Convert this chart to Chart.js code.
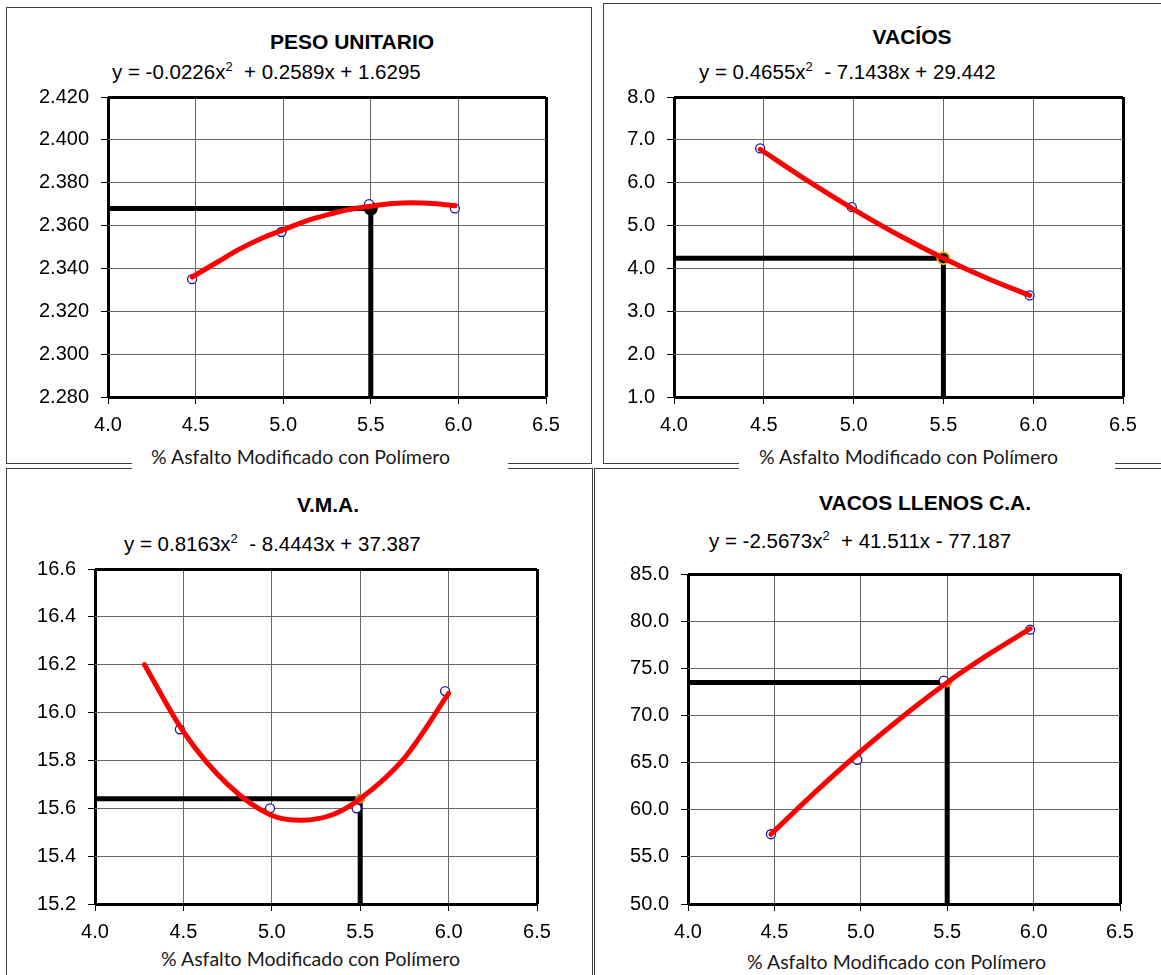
<!DOCTYPE html>
<html>
<head>
<meta charset="utf-8">
<script src="https://cdn.jsdelivr.net/npm/chart.js@4.4.1/dist/chart.umd.min.js"></script>
<style>
  body { margin: 0; background: #fff; }
  #page { position: relative; width: 1161px; height: 975px; overflow: hidden; background: #fff; }
  .box { position: absolute; border: 1px solid #404040; box-sizing: border-box; }
  .title { position: absolute; width: 400px; height: 24px; line-height: 24px; text-align: center;
           font: bold 21px 'Liberation Sans', Arial, sans-serif; color: #000; }
  .eq { position: absolute; height: 24px; line-height: 24px; white-space: pre;
        font: 20.5px 'Liberation Sans', Arial, sans-serif; color: #000; }
  .eq sup { font-size: 13px; vertical-align: 8px; line-height: 0; }
  .xt { position: absolute; height: 24px; line-height: 24px; background: #fff; white-space: pre;
        font: 19.5px Lato, 'Open Sans', sans-serif; color: #1a1a1a; }
  canvas { position: absolute; }
</style>
</head>
<body>
<div id="page">
  <div class="box" style="left:6px;top:7px;width:586px;height:457px"></div>
  <div class="box" style="left:603px;top:3px;width:600px;height:461px"></div>
  <div class="box" style="left:6px;top:468px;width:587px;height:600px"></div>
  <div class="box" style="left:594px;top:468px;width:600px;height:600px"></div>

  <div class="title" style="left:152px;top:30px">PESO UNITARIO</div>
  <div class="title" style="left:712px;top:25px">VACÍOS</div>
  <div class="title" style="left:128px;top:493px">V.M.A.</div>
  <div class="title" style="left:725px;top:491px">VACOS LLENOS C.A.</div>

  <div class="eq" style="left:112px;top:60px">y = -0.0226x<sup>2</sup>  + 0.2589x + 1.6295</div>
  <div class="eq" style="left:699px;top:60px">y = 0.4655x<sup>2</sup>  - 7.1438x + 29.442</div>
  <div class="eq" style="left:124px;top:532px">y = 0.8163x<sup>2</sup>  - 8.4443x + 37.387</div>
  <div class="eq" style="left:709px;top:529px">y = -2.5673x<sup>2</sup>  + 41.511x - 77.187</div>

  <div class="xt" style="left:132px;top:445px;width:376px;padding-left:19px;box-sizing:border-box">% Asfalto Modificado con Polímero</div>
  <div class="xt" style="left:739px;top:445px;width:376px;padding-left:20px;box-sizing:border-box">% Asfalto Modificado con Polímero</div>
  <div class="xt" style="left:161px;top:947px">% Asfalto Modificado con Polímero</div>
  <div class="xt" style="left:747px;top:950px">% Asfalto Modificado con Polímero</div>

  <canvas id="peso"></canvas>
  <canvas id="vacios"></canvas>
  <canvas id="vma"></canvas>
  <canvas id="vfa"></canvas>
</div>

<script>
// shared x axis: % asfalto
const xTicks = [4.0, 4.5, 5.0, 5.5, 6.0, 6.5];

// PESO UNITARIO
const pesoX = [4.48, 4.99, 5.49, 5.98];
const pesoY = [2.335, 2.357, 2.370, 2.368];
const pesoCurveX = [4.48, 4.625, 4.75, 4.875, 5.0, 5.125, 5.25, 5.375, 5.5, 5.625, 5.73, 5.875, 5.98];
const pesoCurveY = [2.336, 2.343, 2.349, 2.354, 2.358, 2.362, 2.365, 2.3675, 2.369, 2.3703, 2.3707, 2.3702, 2.3692];
const pesoDesign = [5.5, 2.368];
const pesoTicks = [2.280, 2.300, 2.320, 2.340, 2.360, 2.380, 2.400, 2.420];

// VACIOS
const vaciosX = [4.48, 4.99, 5.98];
const vaciosY = [6.80, 5.43, 3.37];
const vaciosCurveX = [4.48, 4.75, 5.0, 5.25, 5.5, 5.75, 5.98];
const vaciosCurveY = [6.78, 6.03, 5.38, 4.78, 4.24, 3.76, 3.37];
const vaciosDesign = [5.5, 4.24];
const vaciosTicks = [1.0, 2.0, 3.0, 4.0, 5.0, 6.0, 7.0, 8.0];

// V.M.A.
const vmaX = [4.48, 4.99, 5.48, 5.98];
const vmaY = [15.93, 15.60, 15.60, 16.09];
const vmaCurveX = [4.28, 4.5, 4.75, 5.0, 5.17, 5.35, 5.5, 5.75, 6.0];
const vmaCurveY = [16.20, 15.92, 15.70, 15.57, 15.55, 15.575, 15.64, 15.81, 16.08];
const vmaDesign = [5.5, 15.64];
const vmaTicks = [15.2, 15.4, 15.6, 15.8, 16.0, 16.2, 16.4, 16.6];

// VACIOS LLENOS C.A.
const vfaX = [4.48, 4.98, 5.48, 5.98];
const vfaY = [57.4, 65.3, 73.7, 79.1];
const vfaCurveX = [4.48, 4.75, 5.0, 5.25, 5.5, 5.75, 5.98];
const vfaCurveY = [57.4, 62.1, 66.2, 70.0, 73.5, 76.6, 79.2];
const vfaDesign = [5.5, 73.5];
const vfaTicks = [50.0, 55.0, 60.0, 65.0, 70.0, 75.0, 80.0, 85.0];

Chart.defaults.font.family = "'Liberation Sans', Arial, sans-serif";
Chart.defaults.font.size = 20;
Chart.defaults.color = '#000';

const pair = (xs, ys) => xs.map((x, i) => ({ x: x, y: ys[i] }));

function gridOpts(n) {
    const edge = c => c.index === 0 || c.index === n - 1;
    return {
        color: c => edge(c) ? '#000' : '#666',
        lineWidth: c => edge(c) ? 3 : 1,
        tickLength: 7,
        tickWidth: 1,
        tickColor: '#000'
    };
}

function makePanel(id, p) {
    const canvas = document.getElementById(id);
    const [L, T, R, B] = p.area;
    // y tick padding (12) + half label height (12) pushes the plot top to 24px
    canvas.width = (R - L) + 140;
    canvas.height = (B - T) + 74;
    canvas.style.left = (L - 100) + 'px';
    canvas.style.top = (T - 24) + 'px';

    const yMin = p.yTicks[0];
    const yMax = p.yTicks[p.yTicks.length - 1];

    new Chart(canvas, {
        type: 'scatter',
        data: {
            datasets: [{
                // trendline
                data: pair(p.curveX, p.curveY),
                showLine: true,
                borderColor: '#ff0000',
                borderWidth: 5,
                pointRadius: 0,
                cubicInterpolationMode: 'monotone',
                borderCapStyle: 'round'
            }, {
                // ensayos
                data: pair(p.x, p.y),
                pointStyle: 'circle',
                pointRadius: 4.5,
                pointBorderWidth: 1.3,
                pointBorderColor: '#1414a0',
                pointBackgroundColor: '#fff'
            }, {
                // punto de diseño
                data: [{ x: p.design[0], y: p.design[1] }],
                pointRadius: p.mark.r,
                pointBorderWidth: 2,
                pointBorderColor: p.mark.border,
                pointBackgroundColor: p.mark.fill
            }, {
                // lineas de lectura
                data: [
                    { x: xTicks[0], y: p.design[1] },
                    { x: p.design[0], y: p.design[1] },
                    { x: p.design[0], y: yMin }
                ],
                showLine: true,
                borderColor: '#000',
                borderWidth: 5,
                pointRadius: 0,
                tension: 0,
                clip: { left: 0, top: 0, right: 0, bottom: 4 }
            }]
        },
        options: {
            responsive: false,
            animation: false,
            devicePixelRatio: 1,
            layout: { padding: { left: 0, top: 20, right: 40, bottom: 0 } },
            plugins: { legend: { display: false }, tooltip: { enabled: false } },
            scales: {
                x: {
                    type: 'linear',
                    min: xTicks[0],
                    max: xTicks[xTicks.length - 1],
                    afterBuildTicks: s => { s.ticks = xTicks.map(v => ({ value: v })); },
                    afterFit: s => { s.height = 50; },
                    grid: gridOpts(xTicks.length),
                    border: { display: false },
                    ticks: { padding: 9, maxRotation: 0, autoSkip: false, callback: v => v.toFixed(1) }
                },
                y: {
                    type: 'linear',
                    min: yMin,
                    max: yMax,
                    afterBuildTicks: s => { s.ticks = p.yTicks.map(v => ({ value: v })); },
                    afterFit: s => { s.width = 100; },
                    grid: gridOpts(p.yTicks.length),
                    border: { display: false },
                    ticks: { padding: 12, autoSkip: false, callback: v => v.toFixed(p.dec) }
                }
            }
        }
    });
}

makePanel('peso', {
    area: [108, 97, 546, 397],
    x: pesoX, y: pesoY, curveX: pesoCurveX, curveY: pesoCurveY,
    design: pesoDesign, yTicks: pesoTicks, dec: 3,
    mark: { r: 6, fill: '#000', border: '#000' }
});
makePanel('vacios', {
    area: [674, 97, 1123, 397],
    x: vaciosX, y: vaciosY, curveX: vaciosCurveX, curveY: vaciosCurveY,
    design: vaciosDesign, yTicks: vaciosTicks, dec: 1,
    mark: { r: 6, fill: '#000', border: '#f0b400' }
});
makePanel('vma', {
    area: [95, 569, 537, 904],
    x: vmaX, y: vmaY, curveX: vmaCurveX, curveY: vmaCurveY,
    design: vmaDesign, yTicks: vmaTicks, dec: 1,
    mark: { r: 4, fill: '#3c9a3c', border: '#e08a20' }
});
makePanel('vfa', {
    area: [688, 574, 1120, 904],
    x: vfaX, y: vfaY, curveX: vfaCurveX, curveY: vfaCurveY,
    design: vfaDesign, yTicks: vfaTicks, dec: 1,
    mark: { r: 4, fill: '#f4a040', border: '#e08a20' }
});
</script>
</body>
</html>
